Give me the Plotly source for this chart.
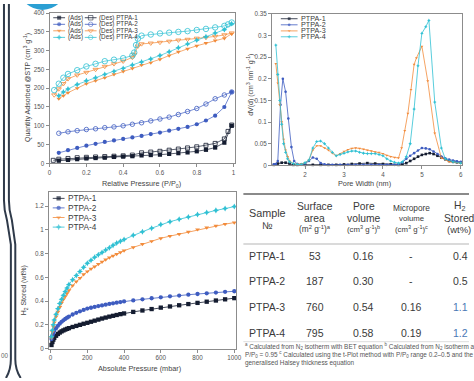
import plotly.graph_objects as go

W, H = 474, 381
FONT = "Liberation Sans, Arial, sans-serif"

# ---------------- data ----------------
series_names = ["PTPA-1", "PTPA-2", "PTPA-3", "PTPA-4"]
colors = ["#141c30", "#3e5cc0", "#f28b3b", "#2fc0d3"]
sym_fill = ["square", "circle", "triangle-down", "star-diamond"]
sym_open = ["square-open", "circle-open", "triangle-down-open", "circle-open"]

# N2 isotherms (relative pressure, cm3/g)
ads_p_12 = [0.05, 0.1, 0.15, 0.2, 0.25, 0.3, 0.35, 0.4, 0.45, 0.5, 0.55, 0.6, 0.65, 0.7, 0.75, 0.8, 0.85, 0.9, 0.95, 0.99]
ads_q_1 = [7, 9, 11, 13, 14, 15, 17, 18, 19, 21, 22, 23, 25, 27, 29, 32, 36, 42, 55, 100]
ads_q_2 = [28, 35, 41, 47, 52, 57, 61, 65, 69, 73, 78, 82, 87, 92, 97, 104, 114, 127, 150, 190]
des_p_1 = [0.99, 0.97, 0.95, 0.9, 0.85, 0.8, 0.75, 0.7, 0.65, 0.6, 0.55, 0.5, 0.45, 0.4, 0.35, 0.3, 0.25, 0.2, 0.15, 0.1, 0.05, 0.02]
des_q_1 = [102, 85, 65, 53, 48, 44, 41, 38, 35, 32, 30, 28, 22, 20, 19, 18, 17, 16, 15, 13, 11, 8]
des_p_2 = [0.99, 0.95, 0.9, 0.85, 0.8, 0.75, 0.7, 0.65, 0.6, 0.55, 0.5, 0.45, 0.4, 0.35, 0.3, 0.25, 0.2, 0.15, 0.1, 0.05]
des_q_2 = [190, 182, 172, 158, 146, 138, 130, 123, 118, 113, 108, 104, 100, 97, 95, 92, 90, 87, 84, 80]
ads_p_34 = [0.05, 0.075, 0.1, 0.15, 0.2, 0.25, 0.3, 0.35, 0.4, 0.45, 0.5, 0.55, 0.6, 0.65, 0.7, 0.75, 0.8, 0.85, 0.9, 0.95, 0.99]
ads_q_3 = [172, 180, 188, 200, 212, 220, 228, 237, 245, 253, 262, 268, 277, 287, 297, 305, 313, 320, 327, 333, 345]
ads_q_4 = [180, 190, 198, 210, 220, 228, 237, 245, 253, 262, 270, 278, 287, 297, 308, 318, 328, 337, 347, 356, 372]
des_p_3 = [0.99, 0.95, 0.9, 0.85, 0.8, 0.75, 0.7, 0.65, 0.6, 0.55, 0.5, 0.48, 0.46, 0.45, 0.4, 0.35, 0.3, 0.25, 0.2, 0.15, 0.1, 0.075, 0.05, 0.025]
des_q_3 = [347, 342, 338, 335, 333, 330, 328, 325, 322, 320, 318, 312, 290, 282, 272, 265, 258, 250, 242, 235, 225, 212, 198, 182]
des_p_4 = [0.99, 0.97, 0.95, 0.9, 0.85, 0.8, 0.75, 0.7, 0.65, 0.6, 0.55, 0.5, 0.48, 0.47, 0.46, 0.45, 0.4, 0.35, 0.3, 0.25, 0.2, 0.15, 0.1, 0.075, 0.05, 0.025]
des_q_4 = [375, 370, 366, 362, 358, 355, 352, 350, 348, 346, 343, 340, 332, 315, 295, 287, 280, 276, 272, 265, 258, 248, 238, 228, 212, 195]

# Pore size distributions (nm, cm3 nm-1 g-1)
psd_x_1 = [1.2, 1.3, 1.4, 1.5, 1.6, 1.7, 1.8, 2.0, 2.2, 2.4, 2.6, 2.8, 3.0, 3.2, 3.4, 3.6, 3.8, 4.0, 4.2, 4.4, 4.5, 4.6, 4.7, 4.8, 4.9, 5.0, 5.1, 5.2, 5.3, 5.4, 5.5, 5.6, 5.7, 5.8, 5.9, 6.0]
psd_y_1 = [0.001, 0.004, 0.006, 0.006, 0.004, 0.001, 0.001, 0.001, 0.001, 0.001, 0.001, 0.001, 0.002, 0.003, 0.004, 0.005, 0.004, 0.003, 0.002, 0.001, 0.002, 0.005, 0.01, 0.015, 0.02, 0.024, 0.026, 0.028, 0.026, 0.022, 0.018, 0.014, 0.01, 0.008, 0.007, 0.006]
psd_x_2 = [1.2, 1.25, 1.3, 1.37, 1.43, 1.5, 1.57, 1.65, 1.72, 1.8, 1.9, 2.0, 2.1, 2.2, 2.3, 2.4, 2.5, 2.7, 2.9, 3.1, 3.3, 3.5, 3.7, 3.9, 4.1, 4.3, 4.4, 4.5, 4.6, 4.7, 4.8, 4.9, 5.0, 5.1, 5.2, 5.3, 5.4, 5.5, 5.6, 5.7, 5.8, 5.9, 6.0]
psd_y_2 = [0.002, 0.003, 0.01, 0.14, 0.2, 0.17, 0.108, 0.042, 0.01, 0.003, 0.002, 0.004, 0.01, 0.018, 0.015, 0.005, 0.002, 0.001, 0.001, 0.001, 0.001, 0.001, 0.001, 0.001, 0.001, 0.001, 0.002, 0.007, 0.015, 0.022, 0.028, 0.034, 0.04, 0.039, 0.037, 0.032, 0.026, 0.02, 0.016, 0.013, 0.011, 0.009, 0.008]
psd_x_3 = [1.25, 1.3, 1.35, 1.4, 1.45, 1.5, 1.55, 1.6, 1.7, 1.8, 1.9, 2.0, 2.1, 2.2, 2.3, 2.4, 2.5, 2.6, 2.7, 2.8, 2.9, 3.0, 3.1, 3.2, 3.3, 3.4, 3.5, 3.6, 3.7, 3.8, 3.9, 4.0, 4.1, 4.2, 4.3, 4.4, 4.48, 4.56, 4.64, 4.72, 4.8, 4.86, 5.0, 5.15, 5.33, 5.5, 5.7, 6.0]
psd_y_3 = [0.235, 0.19, 0.14, 0.1, 0.06, 0.035, 0.02, 0.01, 0.004, 0.002, 0.003, 0.006, 0.012, 0.035, 0.045, 0.045, 0.04, 0.035, 0.028, 0.022, 0.027, 0.032, 0.036, 0.039, 0.04, 0.039, 0.037, 0.035, 0.033, 0.031, 0.03, 0.027, 0.023, 0.02, 0.018, 0.017, 0.04, 0.08, 0.12, 0.175, 0.233, 0.248, 0.275, 0.195, 0.074, 0.017, 0.008, 0.005]
psd_x_4 = [1.25, 1.3, 1.35, 1.4, 1.45, 1.5, 1.55, 1.6, 1.7, 1.8, 1.9, 2.0, 2.1, 2.2, 2.3, 2.4, 2.5, 2.6, 2.7, 2.8, 2.9, 3.0, 3.1, 3.2, 3.3, 3.4, 3.5, 3.6, 3.7, 3.8, 3.9, 4.0, 4.1, 4.2, 4.3, 4.4, 4.5, 4.6, 4.7, 4.8, 4.9, 5.0, 5.1, 5.18, 5.33, 5.5, 5.6, 5.8, 6.0]
psd_y_4 = [0.278, 0.21, 0.15, 0.095, 0.05, 0.03, 0.015, 0.008, 0.004, 0.002, 0.002, 0.006, 0.012, 0.04, 0.055, 0.056, 0.05, 0.04, 0.03, 0.022, 0.025, 0.028, 0.031, 0.033, 0.033, 0.03, 0.028, 0.027, 0.027, 0.027, 0.025, 0.022, 0.015, 0.01, 0.007, 0.005, 0.008, 0.02, 0.05, 0.13, 0.23, 0.305, 0.32, 0.335, 0.146, 0.04, 0.015, 0.008, 0.005]

# H2 uptake (mbar, wt%)
h2_p = [5, 10, 15, 20, 30, 40, 50, 60, 70, 80, 90, 100, 120, 140, 160, 180, 200, 220, 240, 260, 280, 300, 320, 340, 360, 380, 400,
        450, 500, 550, 600, 650, 700, 750, 800, 850, 900, 950, 1000]
h2_1 = [0.03, 0.055, 0.075, 0.09, 0.108, 0.123, 0.135, 0.145, 0.153, 0.16, 0.166, 0.172, 0.182, 0.191, 0.2, 0.209, 0.217, 0.226, 0.235, 0.244, 0.253, 0.261, 0.269, 0.276, 0.283, 0.29, 0.296,
        0.309, 0.321, 0.333, 0.345, 0.355, 0.365, 0.375, 0.385, 0.395, 0.405, 0.415, 0.425]
h2_2 = [0.08, 0.11, 0.13, 0.15, 0.172, 0.192, 0.21, 0.225, 0.238, 0.25, 0.26, 0.27, 0.287, 0.301, 0.314, 0.326, 0.337, 0.344, 0.351, 0.358, 0.364, 0.37, 0.376, 0.381, 0.387, 0.392, 0.397,
        0.406, 0.415, 0.424, 0.432, 0.44, 0.447, 0.454, 0.46, 0.466, 0.472, 0.478, 0.483]
h2_3 = [0.09, 0.14, 0.185, 0.22, 0.27, 0.31, 0.35, 0.385, 0.415, 0.44, 0.465, 0.49, 0.53, 0.565, 0.595, 0.625, 0.65, 0.672, 0.692, 0.712, 0.732, 0.75, 0.767, 0.782, 0.797, 0.811, 0.825,
        0.853, 0.88, 0.905, 0.93, 0.948, 0.965, 0.985, 1.004, 1.02, 1.035, 1.049, 1.062]
h2_4 = [0.1, 0.155, 0.2, 0.24, 0.29, 0.335, 0.38, 0.415, 0.45, 0.48, 0.51, 0.54, 0.58, 0.615, 0.65, 0.685, 0.72, 0.745, 0.77, 0.79, 0.81, 0.83, 0.85, 0.87, 0.89, 0.905, 0.92,
        0.955, 0.985, 1.015, 1.045, 1.07, 1.09, 1.11, 1.13, 1.148, 1.165, 1.18, 1.197]

# Table
tbl_samples = ["PTPA-1", "PTPA-2", "PTPA-3", "PTPA-4"]
tbl_surface = ["53", "187", "760", "795"]
tbl_pore = ["0.16", "0.30", "0.54", "0.58"]
tbl_micro = ["-", "-", "0.16", "0.19"]
tbl_h2 = ["0.4", "0.5", "1.1", "1.2"]
footnotes = [
    "<sup>a</sup> Calculated from N<sub>2</sub> isotherm with BET equation <sup>b</sup> Calculated from N<sub>2</sub> isotherm at",
    "P/P<sub>0</sub> = 0.95 <sup>c</sup> Calculated using the t-Plot method with P/P<sub>0</sub> range 0.2\u20130.5 and the",
    "generalised Halsey thickness equation",
]

# ---------------- helpers ----------------
def fx(x):
    return x / W

def fy(y):
    return 1 - y / H

fig = go.Figure()

ads_sets = [(ads_p_12, ads_q_1), (ads_p_12, ads_q_2), (ads_p_34, ads_q_3), (ads_p_34, ads_q_4)]
des_sets = [(des_p_1, des_q_1), (des_p_2, des_q_2), (des_p_3, des_q_3), (des_p_4, des_q_4)]
psd_sets = [(psd_x_1, psd_y_1), (psd_x_2, psd_y_2), (psd_x_3, psd_y_3), (psd_x_4, psd_y_4)]
h2_sets = [h2_1, h2_2, h2_3, h2_4]
des_sizes = [4, 4.5, 4.5, 5.5]

# Chart 1: isotherms
for i in range(4):
    dp, dq = des_sets[i]
    fig.add_trace(go.Scatter(x=dp, y=dq, mode="lines+markers", xaxis="x", yaxis="y",
                             line=dict(color=colors[i], width=0.7),
                             marker=dict(symbol=sym_open[i], size=des_sizes[i], color=colors[i],
                                         line=dict(width=0.8, color=colors[i])),
                             showlegend=False, cliponaxis=False))
for i in range(4):
    ap, aq = ads_sets[i]
    fig.add_trace(go.Scatter(x=ap, y=aq, mode="lines+markers", xaxis="x", yaxis="y",
                             line=dict(color=colors[i], width=0.7),
                             marker=dict(symbol=sym_fill[i], size=4.2, color=colors[i], line=dict(width=0)),
                             showlegend=False, cliponaxis=False))

# Chart 2: PSD
for i in range(4):
    sx, sy = psd_sets[i]
    fig.add_trace(go.Scatter(x=sx, y=sy, mode="lines+markers", xaxis="x2", yaxis="y2",
                             line=dict(color=colors[i], width=0.8),
                             marker=dict(symbol=sym_fill[i], size=2.6, color=colors[i], line=dict(width=0)),
                             showlegend=False, cliponaxis=False))

# Chart 3: H2
for i in range(4):
    fig.add_trace(go.Scatter(x=h2_p, y=h2_sets[i], mode="lines+markers", xaxis="x3", yaxis="y3",
                             line=dict(color=colors[i], width=0.8),
                             marker=dict(symbol=sym_fill[i], size=4.3, color=colors[i], line=dict(width=0)),
                             showlegend=False, cliponaxis=False))

annotations = []
shapes = []

def legend_glyph(x0, x1, y, color, symbol, size, open_=False):
    xm = (x0 + x1) / 2
    fig.add_trace(go.Scatter(x=[x0, xm, x1], y=[y, y, y], mode="lines+markers", xaxis="x4", yaxis="y4",
                             line=dict(color=color, width=0.8),
                             marker=dict(symbol=symbol, size=[0, size, 0], color=color,
                                         line=dict(width=0.8 if open_ else 0, color=color)),
                             showlegend=False, cliponaxis=False, hoverinfo="skip"))

def text(x, y, s, size, color="#3a3a3a", xanchor="left", angle=0):
    annotations.append(dict(x=fx(x), y=fy(y), xref="paper", yref="paper", text=s, showarrow=False,
                            xanchor=xanchor, yanchor="middle", textangle=angle, borderpad=0,
                            font=dict(family=FONT, size=size, color=color)))

# Legends
leg1_rows = [14, 20.7, 27.3, 34]
for i in range(4):
    legend_glyph(52, 64, leg1_rows[i], colors[i], sym_fill[i], 4)
    text(65.5, leg1_rows[i], "(Ads)", 6.3)
    legend_glyph(84, 96, leg1_rows[i], colors[i], sym_open[i], 4.5, open_=True)
    text(97.5, leg1_rows[i], "(Des) " + series_names[i], 6.3)

leg2_rows = [15, 21.2, 27.4, 33.4]
for i in range(4):
    legend_glyph(283, 300, leg2_rows[i], colors[i], sym_fill[i], 2.8)
    text(302.5, leg2_rows[i], series_names[i], 7.2)

leg3_rows = [198, 207.7, 217.5, 227.3]
for i in range(4):
    legend_glyph(51.5, 63.5, leg3_rows[i], colors[i], sym_fill[i], 4.3)
    text(65.5, leg3_rows[i], series_names[i], 8.3)

# Axis titles
AX = "#444444"
text(26, 85, "Quantity Adsorbed @STP (cm<sup>3</sup> g<sup>-1</sup>)", 7, AX, "center", -90)
text(142, 183, "Relative Pressure (P/P<sub>0</sub>)", 7.3, AX, "center")
text(252, 82, "dV(d) (cm<sup>3</sup> nm<sup>-1</sup> g<sup>-1</sup>)", 7, AX, "center", -90)
text(368, 183, "Pore Width (nm)", 7.3, AX, "center")
text(22, 292, "H<sub>2</sub> Stored (wt%)", 7, AX, "center", -90)
text(140, 371, "Absolute Pressure (mbar)", 7.3, AX, "center")
text(3, 358, "00", 6.3, "#666", "center")

# Table
TC = "#3a3a3a"
col_x = [269, 317.5, 367, 415.5, 464]
text(col_x[0], 213, "Sample", 10.8, TC, "center")
text(col_x[0], 226, "\u2116", 10, TC, "center")
text(col_x[1], 206.5, "Surface", 10.3, TC, "center")
text(col_x[1], 219, "area", 10.3, TC, "center")
text(col_x[1], 229.5, "(m<sup>2</sup> g<sup>-1</sup>)<sup>a</sup>", 8.3, TC, "center")
text(col_x[2], 206.5, "Pore", 10.3, TC, "center")
text(col_x[2], 219, "volume", 10.3, TC, "center")
text(col_x[2], 229.5, "(cm<sup>3</sup> g<sup>-1</sup>)<sup>b</sup>", 7.8, TC, "center")
text(col_x[3], 208, "Micropore", 8.3, TC, "center")
text(col_x[3], 218.5, "volume", 7.8, TC, "center")
text(col_x[3], 229.5, "(cm<sup>3</sup> g<sup>-1</sup>)<sup>c</sup>", 7.8, TC, "center")
text(col_x[4], 206, "H<sub>2</sub>", 10.3, TC, "center")
text(col_x[4], 219, "Stored", 10.3, TC, "center")
text(col_x[4], 229.5, "(wt%)", 9.5, TC, "center")

row_y = [256.7, 282.5, 309, 335]
for r in range(4):
    text(col_x[0], row_y[r], tbl_samples[r], 10.5, TC, "center")
    text(col_x[1], row_y[r], tbl_surface[r], 10.5, TC, "center")
    text(col_x[2], row_y[r], tbl_pore[r], 10.5, TC, "center")
    text(col_x[3], row_y[r], tbl_micro[r], 10.5, TC, "center")
    h2c = "#4a78b5" if r >= 2 else TC
    text(col_x[4] + 1, row_y[r], tbl_h2[r], 10.5, h2c, "center")

foot_y = [349, 357.5, 366]
for k in range(3):
    text(246, foot_y[k], footnotes[k], 6.4, "#555555", "left")

# Table rules
shapes.append(dict(type="line", xref="x4", yref="y4", x0=245, x1=474, y0=193.5, y1=193.5,
                   line=dict(color="#8a8a8a", width=2)))
shapes.append(dict(type="line", xref="x4", yref="y4", x0=245, x1=474, y0=244.5, y1=244.5,
                   line=dict(color="#b5b5b5", width=1)))
shapes.append(dict(type="line", xref="x4", yref="y4", x0=245, x1=474, y0=344, y1=344,
                   line=dict(color="#dddddd", width=1)))

# Decorations: left double bracket and blue circle
shapes.append(dict(type="path", xref="x4", yref="y4",
                   path="M 2,0 L 2,200 Q 2,210 5,220 L 9,245 L 9,362 Q 9,373 4,381",
                   line=dict(color="#2f3a4a", width=2)))
shapes.append(dict(type="path", xref="x4", yref="y4",
                   path="M 7,0 L 7,200 Q 7,210 10,220 L 13.5,245 L 13.5,362 Q 13.5,373 19,381",
                   line=dict(color="#2f3a4a", width=2)))
shapes.append(dict(type="circle", xref="x4", yref="y4", x0=16.7, x1=65.3, y0=-42.6, y1=6,
                   fillcolor="#2b9fd3", line=dict(width=0)))

axis_common = dict(showline=True, linecolor="#8c8c8c", linewidth=0.9, mirror=True,
                   ticks="outside", ticklen=3, tickwidth=0.8, tickcolor="#8c8c8c",
                   tickfont=dict(family=FONT, size=6.3, color="#555555"),
                   showgrid=False, zeroline=False, fixedrange=True)

fig.update_layout(
    width=W, height=H, autosize=False,
    margin=dict(l=0, r=0, t=0, b=0, pad=0),
    paper_bgcolor="white", plot_bgcolor="rgba(0,0,0,0)",
    showlegend=False,
    font=dict(family=FONT),
    xaxis=dict(domain=[fx(48.3), fx(236.7)], range=[0, 1.009], dtick=0.2, anchor="y", **axis_common),
    yaxis=dict(domain=[fy(162.3), fy(9.3)], range=[0, 400], dtick=50, anchor="x", **axis_common),
    xaxis2=dict(domain=[fx(274), fx(466.5)], range=[1.15, 6.02], dtick=1, tick0=0, anchor="y2", **axis_common),
    yaxis2=dict(domain=[fy(164.3), fy(10)], range=[0, 0.35], dtick=0.05, anchor="x2", **axis_common),
    xaxis3=dict(domain=[fx(47.7), fx(238)], range=[-8.6, 1012], dtick=200, anchor="y3", **axis_common),
    yaxis3=dict(domain=[fy(351), fy(192)], range=[0, 1.316], dtick=0.2, anchor="x3", **axis_common),
    xaxis4=dict(domain=[0, 1], range=[0, W], visible=False, anchor="y4", fixedrange=True),
    yaxis4=dict(domain=[0, 1], range=[H, 0], visible=False, anchor="x4", fixedrange=True),
    annotations=annotations,
    shapes=shapes,
)

fig.write_html("out.html", config={"displayModeBar": False},
               post_script="document.body.style.margin='0px';document.body.style.overflow='hidden';")
